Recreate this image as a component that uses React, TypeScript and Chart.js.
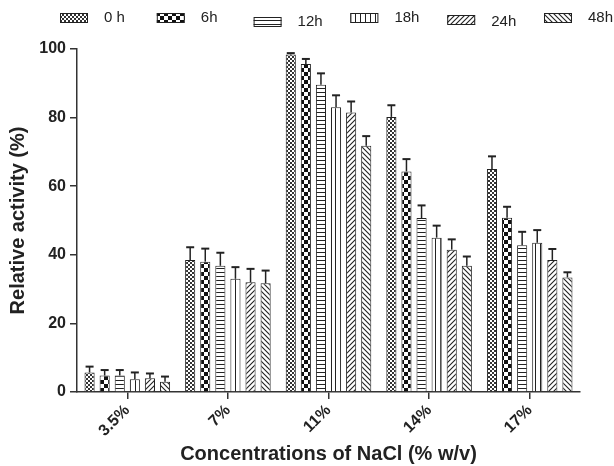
import React, { useEffect, useRef } from "react";
import { Chart, registerables } from "chart.js";

Chart.register(...registerables);

const categories = ["3.5%", "7%", "11%", "14%", "17%"];
const seriesNames = ["0 h", "6h", "12h", "18h", "24h", "48h"];
const h0 = [5.7, 38.5, 98.4, 80.2, 65.0];
const h6 = [4.8, 38.0, 95.6, 64.3, 50.8];
const h12 = [4.8, 36.8, 89.6, 50.7, 42.8];
const h18 = [3.7, 33.0, 83.0, 45.0, 43.5];
const h24 = [4.0, 32.0, 81.5, 41.5, 38.5];
const h48 = [3.0, 31.7, 71.8, 36.8, 33.4];
const h0err = [1.7, 3.7, 0.4, 3.4, 3.7];
const h6err = [1.6, 3.8, 1.5, 3.6, 3.2];
const h12err = [1.6, 3.8, 3.3, 3.7, 3.9];
const h18err = [2.0, 3.4, 3.5, 3.5, 3.7];
const h24err = [1.4, 3.9, 3.2, 3.0, 3.2];
const h48err = [1.5, 3.7, 2.8, 2.7, 1.5];
const yTicks = [0, 20, 40, 60, 80, 100];

const INK = "#222";
const FONT = "'Liberation Sans', Arial, sans-serif";

function makePattern(kind: number): CanvasPattern | string {
  const c = document.createElement("canvas");
  const ctx = c.getContext("2d")!;
  let s = 4;
  if (kind === 0) s = 4;
  if (kind === 1) s = 8;
  if (kind === 2) s = 4;
  if (kind === 3) s = 5;
  if (kind === 4 || kind === 5) s = 5;
  c.width = s;
  c.height = s;
  ctx.fillStyle = "#fff";
  ctx.fillRect(0, 0, s, s);
  ctx.fillStyle = INK;
  ctx.strokeStyle = INK;
  if (kind === 0) {
    ctx.fillStyle = "#333";
    ctx.fillRect(0, 0, 2, 2);
    ctx.fillRect(2, 2, 2, 2);
  } else if (kind === 1) {
    ctx.fillStyle = "#111";
    ctx.fillRect(0, 0, 4, 4);
    ctx.fillRect(4, 4, 4, 4);
  } else if (kind === 2) {
    ctx.fillRect(0, 0, s, 1);
  } else if (kind === 3) {
    ctx.fillRect(0, 0, 1, s);
  } else if (kind === 4) {
    ctx.lineWidth = 1.1;
    ctx.beginPath();
    ctx.moveTo(-1, s + 1);
    ctx.lineTo(s + 1, -1);
    ctx.moveTo(-1, 1);
    ctx.lineTo(1, -1);
    ctx.moveTo(s - 1, s + 1);
    ctx.lineTo(s + 1, s - 1);
    ctx.stroke();
  } else if (kind === 5) {
    ctx.lineWidth = 1.1;
    ctx.beginPath();
    ctx.moveTo(-1, -1);
    ctx.lineTo(s + 1, s + 1);
    ctx.moveTo(s - 1, -1);
    ctx.lineTo(s + 1, 1);
    ctx.moveTo(-1, s - 1);
    ctx.lineTo(1, s + 1);
    ctx.stroke();
  }
  return ctx.createPattern(c, "repeat") || "#888";
}

const errorBars = {
  id: "errorBars",
  afterDatasetsDraw(chart: any) {
    const ctx = chart.ctx;
    const y = chart.scales.y;
    ctx.save();
    ctx.strokeStyle = INK;
    chart.data.datasets.forEach((ds: any, i: number) => {
      const meta = chart.getDatasetMeta(i);
      meta.data.forEach((el: any, j: number) => {
        const v = ds.data[j];
        const e = ds.errors[j];
        const yt = y.getPixelForValue(v + e);
        ctx.lineWidth = 1.5;
        ctx.beginPath();
        ctx.moveTo(el.x, el.y);
        ctx.lineTo(el.x, yt);
        ctx.stroke();
        ctx.lineWidth = 2;
        ctx.beginPath();
        ctx.moveTo(el.x - 4, yt);
        ctx.lineTo(el.x + 4, yt);
        ctx.stroke();
      });
    });
    ctx.restore();
  },
};

const customLegend = {
  id: "customLegend",
  afterDraw(chart: any) {
    const ctx = chart.ctx;
    ctx.save();
    ctx.font = `15px ${FONT}`;
    ctx.textBaseline = "middle";
    const x0 = 60;
    const step = (544 - 60) / 5;
    chart.data.datasets.forEach((ds: any, i: number) => {
      const bx = x0 + i * step;
      const lower = i === 2 || i === 4;
      const by = 13 + (i === 2 ? 4 : i === 4 ? 2 : 0);
      ctx.fillStyle = ds.backgroundColor;
      ctx.fillRect(bx, by, 28, 10);
      ctx.strokeStyle = INK;
      ctx.lineWidth = 1;
      ctx.strokeRect(bx + 0.5, by + 0.5, 27, 9);
      ctx.fillStyle = INK;
      ctx.fillText(ds.label, bx + 44, 18 + (lower ? 4 : 0));
    });
    ctx.restore();
  },
};

export default function App() {
  const ref = useRef<HTMLCanvasElement>(null);
  useEffect(() => {
    if (!ref.current) return;
    const values = [h0, h6, h12, h18, h24, h48];
    const errs = [h0err, h6err, h12err, h18err, h24err, h48err];
    const chart = new Chart(ref.current, {
      type: "bar",
      data: {
        labels: categories,
        datasets: seriesNames.map((name, i) => ({
          label: name,
          data: values[i],
          errors: errs[i],
          backgroundColor: makePattern(i),
          borderColor: INK,
          borderWidth: 1,
          categoryPercentage: 0.9,
          barPercentage: 0.67,
        })) as any,
      },
      options: {
        responsive: false,
        animation: false,
        layout: { padding: { top: 49, right: 34, left: 0, bottom: 0 } },
        plugins: { legend: { display: false }, tooltip: { enabled: false } },
        scales: {
          x: {
            afterFit: (s: any) => {
              s.height = 74;
            },
            grid: {
              display: true,
              drawOnChartArea: false,
              drawTicks: true,
              offset: false,
              tickLength: 7,
              color: "#333",
              lineWidth: 1.5,
            },
            border: { display: true, color: "#333", width: 1.5 },
            ticks: {
              minRotation: 45,
              maxRotation: 45,
              color: INK,
              font: { family: FONT, size: 16, weight: "bold" },
              padding: 2,
            },
            title: {
              display: true,
              text: "Concentrations of NaCl (% w/v)",
              color: INK,
              font: { family: FONT, size: 20, weight: "bold" },
              padding: { top: 0, bottom: 0 },
            },
          },
          y: {
            min: 0,
            max: 100,
            afterFit: (s: any) => {
              s.width = 77;
            },
            afterBuildTicks: (s: any) => {
              s.ticks = yTicks.map((v) => ({ value: v }));
            },
            grid: {
              display: true,
              drawOnChartArea: false,
              drawTicks: true,
              tickLength: 7,
              color: "#333",
              lineWidth: 1.5,
            },
            border: { display: true, color: "#333", width: 1.5 },
            ticks: {
              color: INK,
              font: { family: FONT, size: 16, weight: "bold" },
              padding: 4,
            },
            title: {
              display: true,
              text: "Relative activity (%)",
              color: INK,
              font: { family: FONT, size: 20, weight: "bold" },
              padding: { top: 6, bottom: 0 },
            },
          },
        },
      },
      plugins: [errorBars, customLegend],
    });
    return () => chart.destroy();
  }, []);
  return (
    <div style={{ position: "fixed", left: 0, top: 0, width: 614, height: 466, background: "#fff" }}>
      <canvas ref={ref} width={614} height={466} style={{ display: "block" }} />
    </div>
  );
}
